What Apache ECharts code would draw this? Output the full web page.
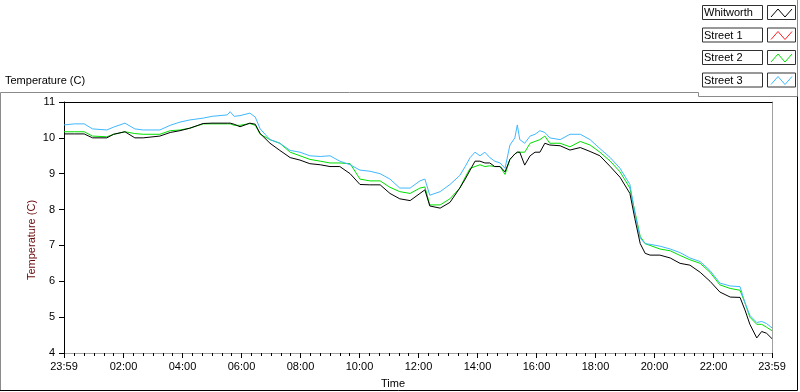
<!DOCTYPE html>
<html>
<head>
<meta charset="utf-8">
<script src="https://cdn.jsdelivr.net/npm/echarts@6/dist/echarts.min.js"></script>
<style>
  html, body { margin: 0; padding: 0; background: #fff; }
  #chart { width: 800px; height: 392px; }
</style>
</head>
<body>
<div id="chart"></div>
<script>
// minutes from midnight (-1 = 23:59 the day before)
var minutes = [-1, 20, 40, 57, 86, 100, 123, 143, 160, 194, 215, 235, 255, 282, 300, 331, 337, 345, 357,
  377, 388, 398, 418, 438, 459, 479, 499, 520, 540, 560, 581, 601, 621, 642, 662, 682, 703, 723, 733,
  743, 764, 784, 804, 815, 825, 835, 845, 855, 865, 875, 886, 896, 906, 916, 921, 926, 936, 947, 957,
  967, 977, 987, 1008, 1028, 1049, 1069, 1089, 1110, 1130, 1150, 1160, 1171, 1181, 1191, 1211, 1232,
  1252, 1272, 1293, 1313, 1333, 1354, 1374, 1384, 1394, 1408, 1418, 1428, 1439];

var whitworth = [10.11, 10.11, 10.11, 10.0, 10.0, 10.1, 10.17, 10.0, 10.0, 10.05, 10.15, 10.2, 10.27, 10.4, 10.41, 10.41, 10.41, 10.38, 10.31,
  10.41, 10.38, 10.12, 9.85, 9.65, 9.45, 9.38, 9.28, 9.25, 9.2, 9.2, 9.0, 8.7, 8.69, 8.69, 8.45, 8.3, 8.25, 8.45, 8.55,
  8.1, 8.04, 8.2, 8.6, 8.85, 9.1, 9.35, 9.35, 9.3, 9.3, 9.2, 9.2, 9.05, 9.4, 9.55, 9.6, 9.6, 9.24, 9.5, 9.6,
  9.6, 9.85, 9.8, 9.78, 9.66, 9.73, 9.62, 9.5, 9.2, 8.9, 8.45, 7.75, 7.05, 6.78, 6.73, 6.73, 6.65,
  6.5, 6.45, 6.25, 6.0, 5.7, 5.56, 5.55, 5.2, 4.8, 4.42, 4.6, 4.55, 4.4];

var street1 = [];

var street2 = [10.17, 10.17, 10.17, 10.05, 10.03, 10.1, 10.17, 10.12, 10.1, 10.1, 10.2, 10.22, 10.27, 10.39, 10.39, 10.39, 10.39, 10.35, 10.35,
  10.4, 10.35, 10.1, 9.95, 9.85, 9.6, 9.5, 9.4, 9.35, 9.3, 9.3, 9.28, 8.85, 8.8, 8.8, 8.62, 8.5, 8.45, 8.6, 8.63,
  8.13, 8.13, 8.3, 8.6, 8.9, 9.15, 9.2, 9.25, 9.2, 9.22, 9.2, 9.2, 8.98, 9.4, 9.55, 9.6, 9.6, 9.6, 9.85, 9.9,
  9.95, 10.05, 9.85, 9.85, 9.75, 9.9, 9.8, 9.6, 9.35, 9.05, 8.6, 7.95, 7.25, 7.05, 7.0, 6.9, 6.85,
  6.72, 6.6, 6.5, 6.25, 5.9, 5.8, 5.75, 5.4, 5.0, 4.8, 4.8, 4.72, 4.62];

var street3 = [10.36, 10.39, 10.39, 10.25, 10.22, 10.3, 10.41, 10.25, 10.22, 10.22, 10.35, 10.44, 10.5, 10.55, 10.6, 10.64, 10.73, 10.6, 10.62,
  10.69, 10.58, 10.25, 9.95, 9.85, 9.65, 9.6, 9.5, 9.48, 9.5, 9.35, 9.25, 9.1, 9.07, 9.0, 8.85, 8.6, 8.6, 8.8, 8.85,
  8.4, 8.5, 8.7, 8.95, 9.2, 9.45, 9.6, 9.5, 9.6, 9.45, 9.35, 9.3, 9.15, 9.8, 10.0, 10.36, 9.95, 9.85, 10.05, 10.1,
  10.2, 10.15, 10.0, 9.95, 10.1, 10.1, 9.95, 9.7, 9.45, 9.15, 8.7, 7.9, 7.2, 7.05, 7.03, 6.98, 6.9,
  6.8, 6.65, 6.55, 6.3, 5.95, 5.87, 5.85, 5.4, 5.05, 4.85, 4.88, 4.82, 4.7];

var seriesNames = ['Whitworth', 'Street 1', 'Street 2', 'Street 3'];
var seriesColors = ['#000000', '#ff2020', '#00e000', '#40b8ff'];
var majorTicks = [-1, 120, 240, 360, 480, 600, 720, 840, 960, 1080, 1200, 1320, 1439];

// minor ticks every 20 minutes
var minorTicks = [];
for (var m = 20; m < 1439; m += 20) {
  if (m % 120 !== 0) minorTicks.push(m);
}

function pairs(vals) {
  return vals.map(function (v, i) { return [minutes[i], v]; });
}

function fmtTime(v) {
  if (v < 0 || v >= 1439) return '23:59';
  var h = Math.round(v / 60);
  return (h < 10 ? '0' : '') + h + ':00';
}

var font = 'Liberation Sans, Arial, sans-serif';
var chart = echarts.init(document.getElementById('chart'));

// legend boxes (LabVIEW style plot legend)
var legendGraphics = [];
var rowTop = [5, 27.5, 50, 72.5];
seriesNames.forEach(function (name, i) {
  var y = rowTop[i];
  legendGraphics.push({
    type: 'rect', shape: { x: 702.5, y: y + 0.5, width: 60, height: 14 },
    style: { fill: '#fff', stroke: '#303030', lineWidth: 1 }
  });
  legendGraphics.push({
    type: 'text', x: 704, y: y + 8,
    style: { text: name, font: '11px ' + font, fill: '#000', textVerticalAlign: 'middle' }
  });
  legendGraphics.push({
    type: 'rect', shape: { x: 767.5, y: y + 0.5, width: 28, height: 14 },
    style: { fill: '#fff', stroke: '#303030', lineWidth: 1 }
  });
  legendGraphics.push({
    type: 'polyline',
    shape: { points: [[771, y + 12], [778, y + 4], [785, y + 12], [792, y + 4]] },
    style: { stroke: seriesColors[i], lineWidth: 1, fill: null }
  });
});

var option = {
  animation: false,
  backgroundColor: '#fff',
  textStyle: { fontFamily: font },
  grid: { left: 64, right: 28, top: 102, bottom: 39 },
  xAxis: [
    {
      type: 'value', min: -1, max: 1439, position: 'bottom',
      axisLine: { show: true, onZero: false, lineStyle: { color: '#a0a0a0', width: 1 } },
      axisTick: { show: true, customValues: majorTicks, length: 5, lineStyle: { color: '#000' } },
      axisLabel: {
        show: true, customValues: majorTicks, formatter: fmtTime, margin: 8,
        fontSize: 11, color: '#000', fontFamily: font,
        showMinLabel: true, showMaxLabel: true
      },
      splitLine: { show: false }
    },
    {
      type: 'value', min: -1, max: 1439, position: 'bottom',
      axisLine: { show: false, onZero: false },
      axisTick: { show: true, customValues: minorTicks, length: 3, lineStyle: { color: '#000' } },
      axisLabel: { show: true, customValues: minorTicks, formatter: function () { return ''; } },
      splitLine: { show: false }
    },
    {
      type: 'value', min: -1, max: 1439, position: 'top',
      axisLine: { show: true, onZero: false, lineStyle: { color: '#000', width: 1 } },
      axisTick: { show: false }, axisLabel: { show: false }, splitLine: { show: false }
    }
  ],
  yAxis: [
    {
      type: 'value', min: 4, max: 11, interval: 1, position: 'left',
      axisLine: { show: true, onZero: false, lineStyle: { color: '#000', width: 1 } },
      axisTick: { show: true, length: 5, lineStyle: { color: '#000' } },
      axisLabel: { fontSize: 11, color: '#000', margin: 9, fontFamily: font },
      splitLine: { show: false }
    },
    {
      type: 'value', min: 4, max: 11, interval: 1, position: 'right',
      axisLine: { show: true, onZero: false, lineStyle: { color: '#a0a0a0', width: 1 } },
      axisTick: { show: false }, axisLabel: { show: false }, splitLine: { show: false }
    }
  ],
  series: [
    { name: 'Street 2', data: pairs(street2), color: seriesColors[2] },
    { name: 'Street 3', data: pairs(street3), color: seriesColors[3] },
    { name: 'Street 1', data: street1, color: seriesColors[1] },
    { name: 'Whitworth', data: pairs(whitworth), color: seriesColors[0] }
  ].map(function (s) {
    return {
      name: s.name, type: 'line', xAxisIndex: 0, yAxisIndex: 0,
      data: s.data, showSymbol: false, symbol: 'none',
      lineStyle: { color: s.color, width: 1 }, itemStyle: { color: s.color }
    };
  }),
  graphic: [
    // outer panel frame
    { type: 'polyline', shape: { points: [[0.5, 390], [0.5, 92.5], [698.5, 92.5], [698.5, 96.5], [797.5, 96.5]] },
      style: { stroke: '#8a8a8a', lineWidth: 1, fill: null } },
    { type: 'line', shape: { x1: 797.5, y1: 0, x2: 797.5, y2: 96 }, style: { stroke: '#8a8a8a', lineWidth: 1 } },
    { type: 'polyline', shape: { points: [[0, 390.5], [797.5, 390.5], [797.5, 96.5]] },
      style: { stroke: '#000', lineWidth: 1, fill: null } },
    // panel caption
    { type: 'text', x: 5, y: 81,
      style: { text: 'Temperature (C)', font: '11px ' + font, fill: '#000', textVerticalAlign: 'middle' } },
    // axis names
    { type: 'text', x: 32, y: 240, rotation: Math.PI / 2,
      style: { text: 'Temperature (C)', font: '11px ' + font, fill: '#6a0a0a', textAlign: 'center', textVerticalAlign: 'middle' } },
    { type: 'text', x: 393, y: 384,
      style: { text: 'Time', font: '11px ' + font, fill: '#000', textAlign: 'center', textVerticalAlign: 'middle' } }
  ].concat(legendGraphics)
};

chart.setOption(option);
</script>
</body>
</html>
